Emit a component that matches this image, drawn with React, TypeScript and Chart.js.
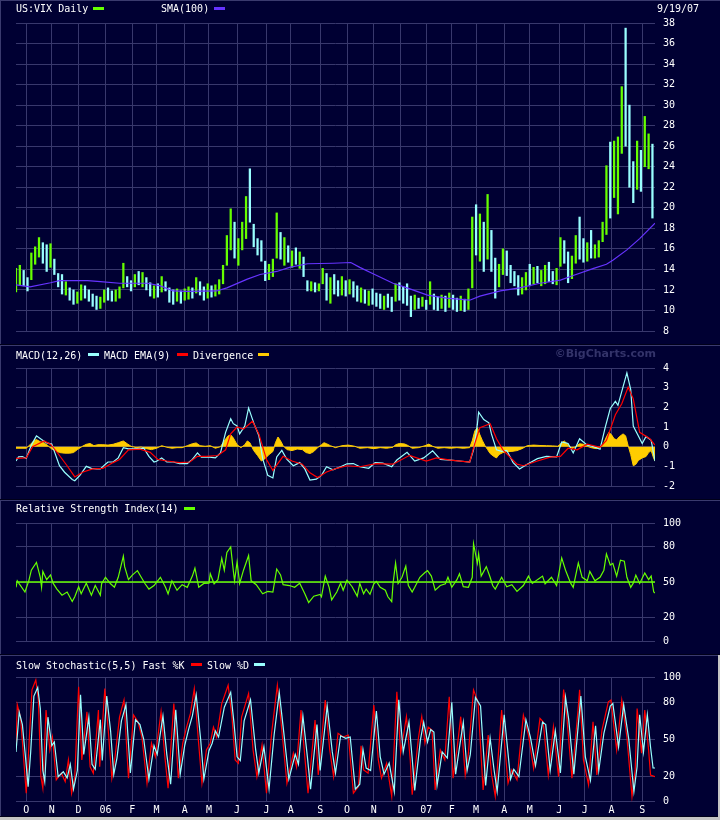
import React, { useEffect, useRef } from 'react';
import { Chart, registerables } from 'chart.js';

Chart.register(...registerables);

// ---------------- data ----------------
// trading-day index (0 = first session shown, 500 = 9/19/07)
const monthDays = [8, 28, 49, 70, 91, 110, 132, 151, 173, 196, 215, 238, 259, 280, 301, 321, 341, 360, 382, 402, 425, 445, 466, 490];
const monthLabels = ['O', 'N', 'D', '06', 'F', 'M', 'A', 'M', 'J', 'J', 'A', 'S', 'O', 'N', 'D', '07', 'F', 'M', 'A', 'M', 'J', 'J', 'A', 'S'];

// VIX, one bar per 3 sessions
const BAR_STEP = 3;
const vixHigh = [
  14.1, 14.4, 13.9, 13.2, 15.6, 16.2, 17.1, 16.6, 16.4, 16.5, 15.0, 13.6, 13.5, 12.8, 12.2, 12.0, 11.8, 12.5, 12.4, 12.0,
  11.6, 11.4, 11.3, 12.0, 12.2, 11.9, 12.0, 12.3, 14.6, 13.3, 12.9, 13.5, 13.8, 13.7, 13.2, 12.7, 12.4, 12.6, 13.3, 12.8,
  12.2, 12.0, 12.1, 11.9, 12.1, 12.3, 12.2, 13.2, 12.8, 12.3, 12.6, 12.4, 12.5, 13.0, 14.4, 17.3, 19.9, 18.6, 17.0, 18.6,
  21.1, 23.8, 18.4, 17.0, 16.8, 14.8, 14.5, 15.0, 19.5, 17.6, 17.1, 16.3, 15.8, 16.1, 15.7, 15.2, 12.9, 12.8, 12.7, 12.6,
  14.1, 13.6, 13.2, 13.5, 12.9, 13.3, 12.9, 13.0, 12.8, 12.4, 12.2, 12.0, 11.9, 12.1, 11.7, 11.6, 11.4, 11.6, 11.3, 12.6,
  12.7, 12.3, 12.6, 11.4, 11.5, 11.2, 11.3, 11.0, 12.8, 11.6, 11.3, 11.5, 11.4, 11.7, 11.5, 11.2, 11.4, 11.1, 12.1, 19.1,
  20.3, 19.4, 18.6, 21.3, 17.8, 15.1, 14.5, 16.0, 15.8, 14.4, 13.8, 13.4, 13.2, 13.7, 14.5, 14.2, 14.3, 13.9, 14.4, 14.7,
  13.8, 14.1, 17.1, 16.8, 15.7, 15.3, 17.3, 19.1, 17.0, 16.6, 17.8, 16.4, 16.8, 18.6, 24.1, 26.4, 26.5, 26.9, 31.8, 37.5,
  30.0, 24.5, 26.5, 25.6, 28.9, 27.2, 26.2,
];
const vixLow = [
  11.8, 12.5, 12.4, 11.9, 13.0, 14.5, 15.2, 14.6, 13.8, 14.2, 13.5, 12.3, 11.6, 11.5, 11.0, 10.6, 10.7, 11.0, 11.2, 10.9,
  10.4, 10.1, 10.2, 10.8, 11.0, 10.9, 10.9, 11.2, 12.2, 12.3, 11.9, 12.3, 12.5, 12.3, 12.0, 11.4, 11.2, 11.3, 11.8, 11.9,
  10.8, 10.6, 10.9, 10.7, 11.0, 11.1, 11.2, 11.7, 11.5, 11.0, 11.2, 11.3, 11.4, 11.6, 12.6, 14.4, 15.9, 15.1, 14.4, 15.9,
  17.0, 18.6, 16.2, 15.4, 14.8, 12.9, 13.0, 13.3, 15.1, 15.0, 14.4, 14.7, 14.2, 14.5, 14.1, 13.3, 11.9, 11.9, 11.8, 11.9,
  12.6, 11.0, 10.7, 11.6, 11.4, 11.5, 11.4, 11.6, 11.3, 10.9, 10.8, 10.7, 10.5, 10.6, 10.4, 10.2, 10.1, 10.3, 9.9, 10.9,
  11.0, 10.7, 10.5, 9.4, 10.1, 10.2, 10.4, 10.1, 10.6, 10.1, 10.0, 10.2, 9.9, 10.3, 10.1, 9.9, 10.0, 9.9, 10.1, 12.2,
  15.4, 14.8, 13.8, 15.0, 13.8, 11.2, 12.3, 13.5, 13.4, 12.7, 12.4, 11.5, 11.6, 12.0, 12.4, 12.6, 12.7, 12.4, 12.6, 12.8,
  12.6, 12.5, 14.3, 14.6, 12.7, 13.1, 14.6, 15.0, 14.7, 14.8, 15.1, 15.1, 15.2, 16.7, 17.4, 19.0, 21.0, 19.4, 25.3, 26.0,
  22.0, 20.5, 21.8, 21.6, 24.0, 23.8, 19.0,
];
const vixClose = [
  12.2, 13.8, 12.7, 12.3, 15.2, 15.8, 16.6, 15.0, 14.2, 15.8, 13.6, 12.5, 11.9, 12.3, 11.3, 10.8, 11.4, 11.8, 11.5, 11.2,
  10.6, 10.3, 10.9, 11.7, 11.3, 11.2, 11.4, 12.0, 13.8, 12.6, 12.2, 13.2, 12.9, 13.4, 12.2, 11.7, 11.9, 11.5, 12.9, 12.1,
  11.1, 11.0, 11.6, 11.1, 11.4, 11.9, 11.5, 12.8, 11.8, 11.3, 12.1, 11.6, 12.0, 12.6, 14.1, 16.8, 17.2, 15.6, 16.2, 17.8,
  20.5, 19.5, 16.6, 15.8, 15.1, 13.5, 14.1, 14.7, 18.4, 15.4, 16.6, 15.0, 15.5, 14.8, 15.2, 13.6, 12.2, 12.5, 12.0, 12.3,
  13.8, 11.4, 12.9, 12.0, 11.7, 12.8, 11.8, 12.4, 11.7, 11.2, 11.4, 11.0, 11.3, 10.9, 10.8, 10.5, 10.9, 10.6, 10.2, 12.2,
  11.5, 11.0, 10.9, 9.9, 10.8, 10.5, 10.9, 10.3, 11.2, 10.6, 10.4, 11.0, 10.2, 11.1, 10.4, 10.3, 10.8, 10.3, 10.7, 18.6,
  16.4, 17.8, 14.6, 16.2, 14.3, 12.4, 13.9, 14.6, 13.8, 13.2, 12.6, 12.1, 12.3, 13.4, 13.1, 13.6, 12.9, 13.0, 13.3, 13.1,
  12.9, 13.5, 16.5, 15.0, 13.2, 14.6, 16.9, 15.9, 15.2, 16.0, 15.5, 15.8, 16.5, 18.2, 23.3, 20.2, 22.6, 25.0, 30.5, 28.0,
  24.8, 23.0, 25.8, 22.4, 26.5, 26.8, 20.3,
];

// 100-day simple moving average [session, value]
const sma100: [number, number][] = [
  [0, 12.5], [11, 12.3], [27, 12.7], [34, 12.9], [56, 12.9], [66, 12.8], [81, 12.65], [103, 12.65], [113, 12.4],
  [123, 11.9], [134, 11.85], [157, 11.9], [165, 12.2], [181, 13.05], [191, 13.5], [204, 13.8], [214, 14.2],
  [228, 14.55], [248, 14.6], [262, 14.67], [269, 14.2], [279, 13.6], [295, 12.65], [306, 12.2], [322, 11.5],
  [337, 11.2], [355, 11.0], [363, 11.4], [379, 11.9], [394, 12.2], [410, 12.65], [426, 12.95], [436, 13.4],
  [452, 14.1], [462, 14.5], [467, 14.9], [478, 15.9], [488, 17.0], [500, 18.5],
];

// MACD(12,26)
const macdLine: [number, number][] = [
  [0, -0.73], [2, -0.52], [5, -0.5], [8, -0.6], [12, 0.08], [16, 0.55], [20, 0.36], [24, 0.19], [28, 0.13], [30, -0.24],
  [34, -0.97], [38, -1.3], [44, -1.67], [46, -1.73], [50, -1.46], [55, -1.0], [59, -1.1], [63, -1.13], [66, -1.13],
  [70, -0.89], [72, -0.78], [76, -0.78], [80, -0.57], [84, -0.05], [88, -0.11], [92, -0.11], [100, -0.08], [104, -0.49],
  [108, -0.78], [110, -0.74], [114, -0.58], [118, -0.78], [123, -0.78], [128, -0.86], [134, -0.86], [138, -0.65],
  [142, -0.32], [145, -0.53], [150, -0.52], [156, -0.57], [160, -0.32], [164, 0.73], [168, 1.42], [170, 1.17],
  [173, 1.05], [175, 0.65], [179, 1.05], [182, 1.97], [186, 1.21], [190, 0.57], [193, -0.61], [197, -1.46],
  [201, -1.59], [204, -0.52], [208, -0.19], [212, -0.65], [217, -0.97], [222, -0.81], [226, -1.13], [230, -1.7],
  [235, -1.65], [239, -1.46], [243, -1.02], [248, -1.18], [254, -1.02], [259, -0.87], [264, -0.86], [269, -1.02],
  [276, -1.1], [281, -0.81], [287, -0.84], [294, -1.02], [298, -0.68], [306, -0.29], [312, -0.73], [319, -0.57],
  [326, -0.21], [332, -0.65], [340, -0.68], [347, -0.73], [355, -0.78], [358, -0.16], [361, 1.13], [362, 1.75],
  [366, 1.38], [370, 1.21], [372, 0.65], [376, -0.16], [380, -0.24], [384, -0.19], [389, -0.81], [394, -1.13],
  [400, -0.89], [408, -0.61], [415, -0.49], [423, -0.52], [427, 0.24], [432, 0.16], [436, -0.32], [441, 0.4],
  [447, 0.08], [452, 0.0], [457, -0.13], [461, 0.97], [465, 1.94], [469, 2.3], [471, 2.1], [478, 3.75], [481, 2.9],
  [483, 1.05], [490, 0.16], [493, 0.52], [497, 0.32], [500, -0.73],
];
const macdSignal: [number, number][] = [
  [0, -0.6], [8, -0.57], [13, 0.0], [22, 0.29], [27, 0.13], [33, -0.36], [40, -0.97], [46, -1.54], [52, -1.3],
  [60, -1.13], [68, -1.1], [76, -0.81], [81, -0.65], [88, -0.16], [97, -0.13], [105, -0.29], [111, -0.65],
  [118, -0.73], [128, -0.81], [136, -0.78], [142, -0.49], [149, -0.49], [158, -0.45], [164, -0.16], [168, 0.65],
  [173, 1.0], [178, 0.89], [185, 1.29], [190, 0.65], [196, -0.65], [201, -1.21], [209, -0.49], [216, -0.73],
  [224, -0.89], [230, -1.33], [236, -1.57], [243, -1.29], [251, -1.1], [259, -0.97], [269, -1.02], [282, -0.86],
  [295, -0.89], [308, -0.44], [321, -0.73], [329, -0.57], [340, -0.68], [355, -0.78], [359, 0.16], [363, 0.97],
  [371, 1.17], [376, 0.4], [381, -0.16], [392, -0.89], [397, -0.97], [408, -0.73], [418, -0.53], [426, -0.49],
  [432, -0.08], [439, -0.16], [447, 0.13], [457, -0.03], [462, 0.32], [469, 1.62], [474, 2.18], [479, 3.03],
  [483, 2.43], [488, 0.73], [496, 0.4], [500, 0.08],
];
const macdDivergence: [number, number][] = [
  [0, -0.08], [8, -0.08], [11, 0.1], [14, 0.3], [16, 0.36], [19, 0.25], [22, 0.19], [25, 0.05], [28, -0.12], [31, -0.2],
  [34, -0.3], [38, -0.33], [42, -0.33], [45, -0.3], [48, -0.15], [52, 0.02], [55, 0.12], [58, 0.16], [61, 0.05],
  [64, 0.1], [68, 0.1], [72, 0.08], [76, 0.12], [80, 0.2], [84, 0.29], [87, 0.15], [90, 0.02], [94, -0.05], [98, -0.02],
  [102, -0.1], [106, -0.15], [110, -0.08], [114, 0.05], [118, -0.03], [122, -0.08], [126, -0.05], [130, -0.05],
  [134, 0.05], [138, 0.15], [141, 0.19], [144, 0.05], [148, 0.02], [152, 0.05], [156, -0.08], [160, 0.0], [163, 0.3],
  [166, 0.55], [168, 0.6], [170, 0.45], [173, 0.1], [176, -0.05], [179, 0.1], [181, 0.29], [183, 0.2], [186, -0.2],
  [189, -0.45], [192, -0.73], [195, -0.6], [198, -0.4], [201, -0.25], [203, 0.2], [205, 0.49], [207, 0.3], [209, 0.05],
  [212, -0.15], [216, -0.2], [220, -0.12], [224, -0.15], [227, -0.3], [230, -0.35], [233, -0.25], [236, -0.05],
  [239, 0.1], [241, 0.2], [243, 0.15], [246, 0.05], [250, -0.05], [255, 0.05], [260, 0.08], [265, 0.02], [269, -0.08],
  [275, -0.05], [280, -0.1], [285, -0.05], [290, -0.08], [295, -0.03], [297, 0.1], [300, 0.16], [304, 0.14], [307, 0.05],
  [310, -0.08], [315, -0.05], [320, 0.05], [323, 0.13], [326, 0.02], [330, -0.08], [335, -0.05], [340, -0.08],
  [345, -0.05], [350, -0.08], [355, -0.05], [357, 0.3], [359, 0.8], [361, 0.97], [363, 0.6], [365, 0.3], [367, 0.05],
  [369, -0.15], [371, -0.35], [374, -0.5], [376, -0.57], [378, -0.4], [381, -0.3], [384, -0.25], [388, -0.24],
  [392, -0.2], [396, -0.1], [400, 0.05], [405, 0.08], [410, 0.06], [415, 0.05], [420, 0.04], [424, 0.02], [427, 0.2],
  [429, 0.29], [432, 0.1], [435, -0.1], [438, 0.0], [441, 0.15], [444, 0.12], [447, 0.02], [450, -0.05], [454, -0.1],
  [457, -0.05], [460, 0.2], [462, 0.5], [464, 0.73], [466, 0.6], [468, 0.4], [470, 0.35], [472, 0.5], [475, 0.65],
  [477, 0.55], [479, 0.05], [481, -0.4], [483, -0.97], [485, -0.9], [487, -0.7], [490, -0.57], [493, -0.5], [495, -0.3],
  [497, -0.2], [499, -0.6], [500, -0.73],
];

// RSI(14)
const rsi14: [number, number][] = [
  [0, 45.5], [1, 51], [3, 47.7], [7, 41.5], [10, 51], [12, 60], [16, 66.6], [19, 54], [20, 45.5], [21, 59], [24, 52],
  [27, 56], [29, 49], [32, 44], [36, 38.8], [40, 41.5], [44, 33.4], [46, 37.5], [49, 46], [51, 40], [55, 49], [59, 38.8],
  [62, 47], [66, 38.8], [67, 48.5], [70, 54], [74, 48.5], [77, 45.5], [80, 54], [84, 72], [85, 63], [88, 52], [91, 55.8],
  [95, 59.6], [98, 54], [101, 48.5], [104, 44], [108, 47], [113, 54], [117, 45.5], [119, 40], [122, 51], [126, 43],
  [130, 47.7], [134, 45.5], [138, 55], [140, 61.7], [143, 45.5], [147, 48.8], [151, 49], [152, 57], [155, 48.5],
  [158, 52], [161, 70], [163, 60], [165, 75], [168, 79.8], [170, 60], [171, 51], [173, 67], [175, 48.8], [178, 60],
  [182, 72.5], [184, 51], [188, 47.7], [193, 40], [197, 42], [201, 41.5], [204, 61], [207, 56], [209, 47.7], [214, 47],
  [218, 45.5], [222, 49], [226, 40], [229, 32.6], [233, 38], [238, 39.4], [239, 37.5], [242, 55], [245, 45.5],
  [247, 34.8], [251, 41.5], [254, 49], [256, 43], [259, 51.5], [263, 46], [267, 38], [269, 48.8], [272, 40], [274, 44],
  [277, 39.6], [280, 48.5], [282, 50.4], [285, 45.5], [289, 43], [291, 37.5], [294, 33.4], [295, 48.5], [297, 66],
  [299, 48.8], [302, 54], [305, 63.5], [307, 47], [310, 41.5], [312, 45.5], [316, 54], [320, 58], [322, 59.6], [325, 55],
  [328, 43], [332, 47], [336, 48.5], [338, 54], [341, 45.5], [345, 52], [347, 57], [350, 46], [354, 45.5], [357, 54],
  [358, 82.5], [361, 65.8], [362, 73.8], [364, 55], [368, 63], [371, 54], [373, 47], [375, 44], [380, 54], [384, 46],
  [388, 47.7], [392, 42], [397, 47], [401, 55], [404, 48.8], [408, 52], [412, 55], [414, 48.5], [419, 54], [423, 47],
  [427, 70.4], [430, 60], [434, 49], [436, 45.5], [440, 66.3], [443, 54], [447, 51], [449, 59], [453, 51], [457, 54],
  [460, 60], [462, 73.8], [465, 64.4], [467, 65.8], [470, 55], [473, 68.5], [476, 67.7], [478, 54], [481, 45.5],
  [483, 49], [485, 55.8], [488, 48.8], [492, 57.7], [495, 52], [497, 55], [499, 41.5], [500, 40.7],
];
const rsiMidline = 50;
const oscillatorTicks = [0, 20, 50, 80, 100];

// Slow stochastic (5,5)
const stochFastK: [number, number][] = [
  [0, 44], [1, 78], [3.5, 68], [5.5, 41.5], [8, 6.7], [9.5, 33.5], [12.5, 90], [15.5, 98], [17.5, 82], [19.5, 20],
  [21, 10.7], [23.5, 73.7], [26.5, 41.5], [28.5, 52], [31.5, 17.4], [35.5, 22.8], [38.5, 16], [41, 33.5], [43.5, 6.7],
  [46, 20], [49, 92.5], [51.5, 33.5], [55.5, 72.4], [58, 28], [60.5, 22.8], [64.5, 73.7], [65.5, 28], [69.5, 91],
  [72, 60], [75, 18.8], [77.5, 36], [81, 68], [84.5, 81.8], [88, 18.8], [92, 69.7], [95.5, 64.3], [98.5, 52],
  [102.5, 14.7], [106, 47], [109, 36], [113.5, 72.4], [116.5, 36], [119, 10.7], [123.5, 79], [127, 18.8], [130.5, 47],
  [133.5, 60], [136.5, 71], [139.5, 91], [142.5, 52], [145.5, 14.7], [149, 41.5], [152, 47], [154.5, 60], [157, 52],
  [161, 79], [166, 93.8], [169, 68], [171.5, 33.5], [174, 30.8], [176.5, 68], [182, 87], [185.5, 41.5], [188.5, 20],
  [192.5, 45.5], [196, 6.7], [200, 55], [204.5, 93.8], [208, 57.6], [212, 14.7], [217, 38.9], [219.5, 28], [223, 73.7],
  [226, 36], [228.5, 6.7], [234, 65.7], [236.5, 21.4], [242, 81.8], [245.5, 41.5], [248.5, 20], [252, 55], [256, 52],
  [260, 53.6], [264, 6.7], [268, 12], [270, 45], [272, 25.5], [275.5, 22.8], [280, 77.7], [283.5, 33.5], [286, 18.8],
  [290, 30.8], [294, 4], [298, 88.5], [301, 38.9], [305.5, 68.4], [308.5, 33.5], [310, 5.4], [315, 52], [317.5, 68.4],
  [320, 47], [322.5, 60], [325.5, 57.6], [328, 9.4], [332, 41.5], [335.5, 33.5], [339, 84.5], [342, 18.8], [345, 41.5],
  [348, 68.4], [351.5, 21.4], [354, 38.9], [358, 90], [361.5, 80.4], [365.5, 9.4], [369.5, 53.6], [372, 22.8], [375, 4],
  [380, 73.7], [385, 14.7], [388, 25.5], [392, 17.4], [397, 69.7], [401, 53.6], [405, 26.8], [410, 67], [412.5, 64.3],
  [416.5, 21.4], [420.5, 60], [424.5, 20], [428.5, 90.3], [431, 68.4], [435, 18.8], [440, 76.4], [441, 90], [444, 33.5],
  [448, 13.4], [451.5, 64.3], [454.5, 21.4], [458.5, 57.6], [463.5, 80.4], [465.5, 81.8], [470, 41.5], [474, 81.8],
  [478, 52], [482, 4], [484.5, 25.5], [486, 75], [489.5, 38.9], [492, 73.7], [495, 41.5], [496.5, 21.4], [500, 20],
];
const stochSlowD: [number, number][] = [
  [0, 40], [2.5, 72], [5, 62], [7.5, 35], [9.5, 12], [11.5, 40], [14, 85], [17, 92], [19, 75], [21, 25], [22.5, 16],
  [25, 68], [28, 45], [30, 48], [33, 20], [37, 24], [40, 19], [42.5, 30], [45, 10], [48, 25], [50.5, 86], [53, 38],
  [57, 68], [59.5, 30], [62, 26], [66, 66], [67.5, 33], [71, 85], [74, 57], [76.5, 22], [79, 35], [82.5, 65], [86, 78],
  [89.5, 23], [93.5, 66], [97, 62], [100, 50], [104, 18], [108, 45], [110.5, 38], [115, 69], [118, 38], [121, 14],
  [125, 74], [128.5, 22], [132, 45], [135, 58], [138, 69], [141, 86], [144.5, 50], [147, 18], [151, 41], [153.5, 47],
  [156, 57], [158.5, 52], [163, 76], [168, 88], [170.5, 64], [173, 36], [175.5, 33], [178.5, 65], [183.5, 82],
  [187.5, 42], [190, 23], [194, 44], [198, 10], [202, 54], [206, 88], [209.5, 56], [213.5, 18], [218.5, 38], [221, 30],
  [224.5, 69], [228, 36], [230.5, 10], [235.5, 62], [238, 25], [243.5, 77], [247.5, 40], [250, 23], [254, 53], [258, 51],
  [261.5, 52], [265.5, 10], [269, 14], [271.5, 42], [274, 27], [277.5, 25], [282, 73], [285, 36], [288, 22], [292, 31],
  [296, 8], [299.5, 82], [303, 40], [307.5, 64], [310, 35], [312, 9], [316.5, 50], [319, 64], [322, 48], [324.5, 58],
  [327, 56], [329.5, 13], [333.5, 40], [337.5, 35], [341, 80], [344, 22], [346.5, 40], [350, 64], [353, 25], [355.5, 38],
  [359.5, 84], [363.5, 77], [367.5, 13], [371, 51], [374, 26], [376.5, 8], [382, 70], [387, 18], [389.5, 26],
  [393.5, 20], [399, 66], [402.5, 52], [406.5, 29], [412, 64], [414.5, 62], [418, 25], [422, 57], [426, 23], [430, 84],
  [432.5, 66], [436.5, 22], [442, 85], [445.5, 36], [449.5, 17], [453.5, 61], [456, 25], [460, 55], [465, 77], [467, 79],
  [471.5, 44], [475.5, 78], [479.5, 50], [483.5, 8], [486, 28], [488, 70], [491, 40], [494, 70], [496.5, 44],
  [498.5, 27], [500, 27],
];

// ---------------- style ----------------
const BG = '#000033';
const GRID = '#38386c';
const WHITE = '#ffffff';
const GREEN = '#66ff00';
const CYAN = '#99ffff';
const RED = '#ff0000';
const ORANGE = '#ffcc00';
const PURPLE = '#6633ff';
const MONO = "'DejaVu Sans Mono', monospace";
const TICK_FONT = { family: MONO, size: 10 };
const LAST_DAY = 500;

const toPoints = (pairs: [number, number][]) => pairs.map(([x, y]) => ({ x, y }));

const midlinePlugin = {
  id: 'midline',
  afterDatasetsDraw(chart: any, _args: any, opts: any) {
    if (opts == null || opts.value == null) return;
    const { ctx, chartArea } = chart;
    const y = chart.scales.y.getPixelForValue(opts.value);
    ctx.save();
    ctx.strokeStyle = opts.color;
    ctx.lineWidth = 1.6;
    ctx.beginPath();
    ctx.moveTo(chartArea.left, y);
    ctx.lineTo(chartArea.right, y);
    ctx.stroke();
    ctx.restore();
  },
};

function baseOptions(padTop: number, padBottom: number, showX: boolean, y: any): any {
  const { ticks: yTicks, ...yRest } = y;
  return {
    responsive: false,
    maintainAspectRatio: false,
    animation: false,
    events: [],
    layout: { padding: { left: 16, right: 0, top: padTop, bottom: padBottom } },
    plugins: { legend: { display: false }, tooltip: { enabled: false }, title: { display: false } },
    scales: {
      x: {
        type: 'linear',
        min: 0,
        max: LAST_DAY,
        offset: false,
        afterBuildTicks: (s: any) => {
          s.ticks = monthDays.map((value) => ({ value }));
        },
        afterFit: (s: any) => {
          s.height = showX ? 18.5 : 0;
        },
        grid: { color: GRID, lineWidth: 1, drawTicks: false, offset: false },
        border: { display: false },
        ticks: {
          display: showX,
          autoSkip: false,
          maxRotation: 0,
          color: WHITE,
          font: TICK_FONT,
          padding: 3,
          callback: (_v: any, i: number) => monthLabels[i],
        },
      },
      y: {
        position: 'right',
        ...yRest,
        afterFit: (s: any) => {
          s.width = 65;
        },
        grid: { color: GRID, lineWidth: 1, drawTicks: false },
        border: { display: false },
        ticks: { color: WHITE, font: TICK_FONT, padding: 8, ...(yTicks || {}) },
      },
    },
  };
}

const fixedTicks = (values: number[]) => (s: any) => {
  s.ticks = values.map((value) => ({ value }));
};

function priceConfig(): any {
  const colors = vixClose.map((c, i) => (i === 0 || c >= vixClose[i - 1] ? GREEN : CYAN));
  return {
    type: 'bar',
    data: {
      datasets: [
        {
          type: 'line',
          data: toPoints(sma100),
          borderColor: PURPLE,
          borderWidth: 1.2,
          pointRadius: 0,
          tension: 0,
          order: 0,
        },
        {
          type: 'bar',
          data: vixHigh.map((h, i) => ({ x: i * BAR_STEP, y: [vixLow[i], h] })),
          backgroundColor: colors,
          borderWidth: 0,
          barThickness: 1.6,
          order: 1,
        },
      ],
    },
    options: baseOptions(23, 8, false, { min: 8, max: 38, ticks: { stepSize: 2 } }),
  };
}

function macdConfig(): any {
  return {
    type: 'line',
    data: {
      datasets: [
        {
          data: toPoints(macdSignal),
          borderColor: RED,
          borderWidth: 1.2,
          pointRadius: 0,
          order: 0,
        },
        {
          data: toPoints(macdLine),
          borderColor: CYAN,
          borderWidth: 1.2,
          pointRadius: 0,
          order: 1,
        },
        {
          data: toPoints(macdDivergence),
          borderColor: ORANGE,
          backgroundColor: ORANGE,
          borderWidth: 1,
          pointRadius: 0,
          fill: 'origin',
          order: 2,
        },
      ],
    },
    options: baseOptions(22, 8, false, { min: -2, max: 4, ticks: { stepSize: 1 } }),
  };
}

function rsiConfig(): any {
  const opts = baseOptions(22, 8.5, false, { min: 0, max: 100, afterBuildTicks: fixedTicks(oscillatorTicks) });
  opts.plugins.midline = { value: rsiMidline, color: GREEN };
  return {
    type: 'line',
    data: {
      datasets: [
        { data: toPoints(rsi14), borderColor: GREEN, borderWidth: 1.2, pointRadius: 0 },
      ],
    },
    options: opts,
    plugins: [midlinePlugin],
  };
}

function stochConfig(): any {
  return {
    type: 'line',
    data: {
      datasets: [
        { data: toPoints(stochSlowD), borderColor: CYAN, borderWidth: 1.2, pointRadius: 0, order: 0 },
        { data: toPoints(stochFastK), borderColor: RED, borderWidth: 1.2, pointRadius: 0, order: 1 },
      ],
    },
    options: baseOptions(21.5, 0, true, { min: 0, max: 100, afterBuildTicks: fixedTicks(oscillatorTicks) }),
  };
}

function Panel({ top, height, make }: { top: number; height: number; make: () => any }) {
  const ref = useRef<HTMLCanvasElement>(null);
  useEffect(() => {
    const chart = new Chart(ref.current as HTMLCanvasElement, make());
    return () => chart.destroy();
  }, []);
  return (
    <canvas
      ref={ref}
      width={720}
      height={height}
      style={{ position: 'absolute', left: 0, top, width: 720, height }}
    />
  );
}

const Txt = ({ x, y, children, style }: any) => (
  <div
    style={{
      position: 'absolute',
      left: x,
      top: y,
      color: WHITE,
      fontFamily: MONO,
      fontSize: 10,
      lineHeight: '12px',
      whiteSpace: 'pre',
      ...style,
    }}
  >
    {children}
  </div>
);
const Swatch = ({ x, y, color }: any) => (
  <div style={{ position: 'absolute', left: x, top: y, width: 11, height: 3, background: color }} />
);
const HLine = ({ y, color, h = 1 }: any) => (
  <div style={{ position: 'absolute', left: 0, top: y, width: 720, height: h, background: color }} />
);

export default function App() {
  return (
    <div style={{ position: 'relative', width: 720, height: 820, background: BG, overflow: 'hidden' }}>
      <style>{'body{margin:0;background:#000033;}'}</style>
      <Panel top={0} height={345} make={priceConfig} />
      <Panel top={346} height={154} make={macdConfig} />
      <Panel top={501} height={154} make={rsiConfig} />
      <Panel top={656} height={164} make={stochConfig} />

      {/* frame & separators */}
      <HLine y={0} color="#3a3a6e" />
      <div style={{ position: 'absolute', left: 0, top: 0, width: 1, height: 820, background: '#3a3a6e' }} />
      <HLine y={344} color="#00001a" />
      <HLine y={345} color="#3a3a6e" />
      <HLine y={499} color="#00001a" />
      <HLine y={500} color="#3a3a6e" />
      <HLine y={654} color="#00001a" />
      <HLine y={655} color="#3a3a6e" />
      <HLine y={816} color="#00001a" />
      <HLine y={817} color="#c4c4c4" h={3} />
      <div style={{ position: 'absolute', left: 718, top: 655, width: 2, height: 165, background: '#c4c4c4' }} />

      {/* price header */}
      <Txt x={16} y={3}>US:VIX Daily</Txt>
      <Swatch x={93} y={7} color={GREEN} />
      <Txt x={161} y={3}>SMA(100)</Txt>
      <Swatch x={214} y={7} color={PURPLE} />
      <Txt x={657} y={3}>9/19/07</Txt>

      {/* MACD header */}
      <Txt x={16} y={349.5}>MACD(12,26)</Txt>
      <Swatch x={88} y={353} color={CYAN} />
      <Txt x={104} y={349.5}>MACD EMA(9)</Txt>
      <Swatch x={177} y={353} color={RED} />
      <Txt x={193} y={349.5}>Divergence</Txt>
      <Swatch x={258} y={353} color={ORANGE} />
      <div
        style={{
          position: 'absolute',
          right: 64,
          top: 348,
          color: '#33336a',
          fontFamily: "'DejaVu Sans', sans-serif",
          fontWeight: 'bold',
          fontSize: 11,
          lineHeight: '12px',
          whiteSpace: 'pre',
        }}
      >
        ©BigCharts.com
      </div>

      {/* RSI header */}
      <Txt x={16} y={503}>Relative Strength Index(14)</Txt>
      <Swatch x={184} y={507} color={GREEN} />

      {/* Stochastic header */}
      <Txt x={16} y={659.5}>Slow Stochastic(5,5) Fast %K</Txt>
      <Swatch x={191} y={663} color={RED} />
      <Txt x={207} y={659.5}>Slow %D</Txt>
      <Swatch x={254} y={663} color={CYAN} />
    </div>
  );
}
